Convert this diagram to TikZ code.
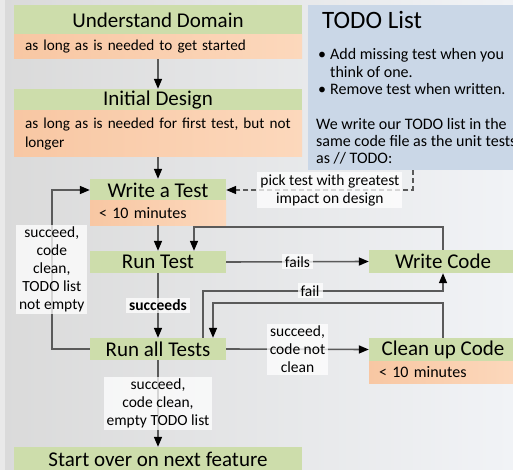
\documentclass[tikz,border=0pt]{standalone}
\usepackage{fontspec}
\setmainfont{Carlito}
\usetikzlibrary{arrows.meta,calc}
\definecolor{boxgreen}{HTML}{CDDDAB}
\definecolor{boxorange}{HTML}{FCD8BC}
\definecolor{orangedeep}{HTML}{F8C7A3}
\definecolor{todoblue}{HTML}{CAD7E7}
\definecolor{wire}{HTML}{5A5A5A}
\definecolor{bgleft}{HTML}{DADADA}
\definecolor{bgright}{HTML}{F1F3F6}
\definecolor{bgstrip}{HTML}{E9E9E9}

\begin{document}
\begin{tikzpicture}[x=1pt,y=-1pt,
  title/.style={fill=boxgreen, inner sep=0pt, font=\fontsize{21}{24}\selectfont},
  note/.style={left color=orangedeep, right color=boxorange, inner ysep=0pt,
    inner xsep=11pt, align=left, font=\fontsize{15.2}{19}\selectfont},
  timebox/.style={note, font=\fontsize{16}{19}\selectfont},
  wire/.style={draw=wire, line width=1.6pt},
  arr/.style={wire, -{Triangle[length=10pt,width=8pt,color=black]}},
  dashwire/.style={arr, dash pattern=on 5pt off 3pt},
  lbl/.style={fill=white, fill opacity=0.75, text opacity=1, inner xsep=3pt,
    inner ysep=2pt, align=center, font=\fontsize{15.5}{18}\selectfont}
]
\useasboundingbox (0,0) rectangle (513,470);
% backdrop
\shade[left color=bgleft, right color=bgright] (0,0) rectangle (513,470);
\fill[bgstrip] (0,0) rectangle (5,470);

% TODO panel
\node[fill=todoblue, inner sep=0pt, anchor=north west, minimum width=209pt,
  minimum height=165pt] (todo) at (308,5) {%
  \parbox[t][165pt][t]{209pt}{\raggedright\parskip=0pt
    \fontsize{25}{28}\selectfont\rule{0pt}{23pt}\hspace*{14pt}TODO List\par
    \fontsize{16}{17.3}\selectfont\vspace{14.5pt}%
    \makebox[22pt][l]{\hspace{10pt}•}Add missing test when you\\
    \hspace*{22pt}think of one.\\
    \makebox[22pt][l]{\hspace{10pt}•}Remove test when written.\\[17.3pt]
    \hspace*{8pt}We write our TODO list in the\\
    \hspace*{8pt}same code file as the unit tests\\
    \hspace*{8pt}as // TODO:}};

% process boxes
\node[title, minimum width=288pt, minimum height=30pt] (ud) at (158,20) {Understand Domain};
\node[note, text width=266pt, minimum height=24pt] (udn) at (158,47) {as long as is needed to get started};
\node[title, minimum width=288pt, minimum height=22pt] (id) at (158,100) {Initial Design};
\node[note, text width=266pt, minimum height=46pt] (idn) at (158,134)
  {\mbox{as long as is needed for first test, but not}\\longer};
\node[title, minimum width=136pt, minimum height=22pt] (wt) at (158,190) {Write a Test};
\node[timebox, text width=118pt, inner xsep=9pt, minimum height=24pt] (wtn) at (158,213) {< 10 minutes};
\node[title, minimum width=136pt, minimum height=22pt] (rt) at (158,262) {Run Test};
\node[title, minimum width=148pt, minimum height=23pt] (wc) at (443,261.5) {Write Code};
\node[title, minimum width=136pt, minimum height=22pt] (ra) at (158,349) {Run all Tests};
\node[title, minimum width=148pt, minimum height=23pt] (cc) at (443,349.5) {Clean up Code};
\node[timebox, text width=128pt, inner xsep=10pt, minimum height=22pt] (ccn) at (443,372) {< 10 minutes};
\node[title, minimum width=288pt, minimum height=24pt] (so) at (158,459) {Start over on next feature};

% connectors
\draw[arr] (udn.south) -- (id.north);
\draw[arr] (idn.south) -- (wt.north);
\draw[arr] (wtn.south) -- (rt.north);
\draw[arr] (rt.east) -- node[lbl] {fails} (wc.west);
\draw[arr] (wc.north) -- ++(0,-23) -| ([xshift=36pt]rt.north);
\draw[arr] (rt.south) -- node[lbl] {\bfseries succeeds} (ra.north);
\draw[arr] ([xshift=45pt]ra.north) -- ++(0,-47) coordinate (f1)
  -- node[lbl, pos=0.446] {fail} (f1 -| wc.south) -- (wc.south);
\draw[arr] (cc.north) -- ++(0,-35) -| ([xshift=55pt]ra.north);
\draw[arr] (ra.east) -- node[lbl] {succeed,\\code not\\clean} (cc.west);
\draw[arr] (ra.south) -- node[lbl] {succeed,\\code clean,\\empty TODO list} (so.north);
\draw[arr] (ra.west) -- ++(-38,0) coordinate (l1)
  -- node[lbl] {succeed,\\code\\clean,\\TODO list\\not empty} (l1 |- wt.west) -- (wt.west);
\draw[dashwire] (todo.south) |- node[lbl, pos=0.722] {pick test with greatest\\impact on design} (wt.east);
\end{tikzpicture}
\end{document}
